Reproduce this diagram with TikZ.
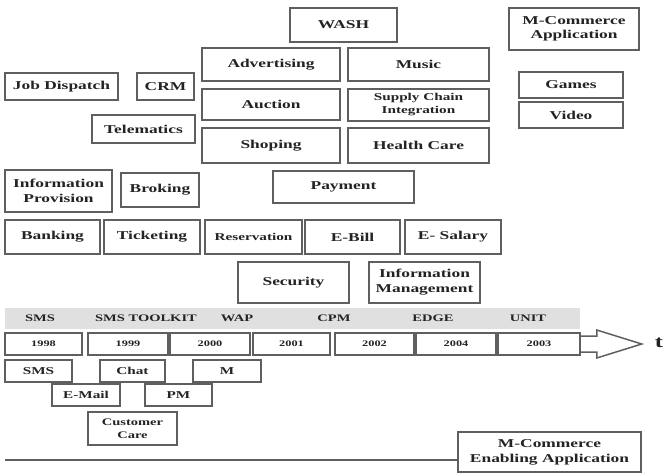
\documentclass[tikz,border=0pt]{standalone}
\usepackage{fontspec}
\setmainfont{Liberation Serif}[FakeStretch=1.45]
\usepackage{xcolor}
\usepackage{tikz}
\usetikzlibrary{positioning, calc}
\definecolor{MCBorder}{RGB}{95, 95, 95}
\definecolor{MCText}{RGB}{35, 35, 35}
\definecolor{MCBand}{RGB}{224, 224, 224}

\begin{document}
\begin{tikzpicture}[x=1pt, y=-1pt,
    appbox/.style={draw=MCBorder, line width=1.5pt, fill=white, inner sep=0pt, align=center,
                   text=MCText, font=\fontsize{12}{14}\selectfont\bfseries},
    smallbox/.style={appbox, font=\fontsize{10.5}{12}\selectfont\bfseries},
    yearbox/.style={appbox, minimum height=22pt, font=\fontsize{8.5}{10}\selectfont\bfseries},
    bandlabel/.style={text=MCText, font=\fontsize{10}{12}\selectfont\bfseries}]
    \useasboundingbox (0,0) rectangle (666,474);
    \fill[white] (0,0) rectangle (666,474);

    \node[appbox, minimum width=107pt, minimum height=34pt] (wash) at (343.5,25) {WASH};
    \node[appbox, minimum width=130pt, minimum height=42pt] (mcapp) at (574,29) {M-Commerce\\Application};
    \node[appbox, minimum width=138pt, minimum height=33pt] (advert) at (271,64.5) {Advertising};
    \node[appbox, minimum width=141pt, minimum height=33pt] (music) at (418.5,64.5) {Music};
    \node[appbox, minimum width=113pt, minimum height=27pt] (jobdisp) at (61.5,86.5) {Job Dispatch};
    \node[appbox, minimum width=57pt, minimum height=27pt] (crm) at (165.5,86.5) {CRM};
    \node[appbox, minimum width=138pt, minimum height=31pt] (auction) at (271,104.5) {Auction};
    \node[appbox, minimum width=141pt, minimum height=32pt,
          font=\fontsize{10.5}{13}\selectfont\bfseries] (supply) at (418.5,105) {Supply Chain\\Integration};
    \node[appbox, minimum width=103pt, minimum height=28pt] (telem) at (143.5,129) {Telematics};
    \node[appbox, minimum width=138pt, minimum height=35pt] (shop) at (271,145.5) {Shoping};
    \node[appbox, minimum width=141pt, minimum height=35pt] (health) at (418.5,145.5) {Health Care};
    \node[appbox, minimum width=104pt, minimum height=26pt] (games) at (571,85) {Games};
    \node[appbox, minimum width=104pt, minimum height=26pt] (video) at (571,115) {Video};

    \node[appbox, minimum width=107pt, minimum height=42pt,
          font=\fontsize{12}{15}\selectfont\bfseries] (infoprov) at (58.5,191) {Information\\Provision};
    \node[appbox, minimum width=78pt, minimum height=34pt] (broking) at (160,190) {Broking};
    \node[appbox, minimum width=141pt, minimum height=32pt] (payment) at (343.5,187) {Payment};

    \node[appbox, minimum width=95pt, minimum height=34pt] (banking) at (52.5,237) {Banking};
    \node[appbox, minimum width=96pt, minimum height=34pt] (ticket) at (152,237) {Ticketing};
    \node[appbox, minimum width=97pt, minimum height=34pt,
          font=\fontsize{10.5}{12}\selectfont\bfseries] (reserv) at (253.5,237) {Reservation};
    \node[appbox, minimum width=95pt, minimum height=34pt] (ebill) at (352.5,237) {E-Bill};
    \node[appbox, minimum width=96pt, minimum height=34pt] (esalary) at (453,237) {E- Salary};

    \node[appbox, minimum width=111pt, minimum height=41pt] (security) at (293.5,282.5) {Security};
    \node[appbox, minimum width=111pt, minimum height=41pt,
          font=\fontsize{12}{15}\selectfont\bfseries] (infomgmt) at (424.5,282.5) {Information\\Management};

    \fill[MCBand] (5,308) rectangle (580,329);
    \node[bandlabel] (tsms) at (40,318.5) {SMS};
    \node[bandlabel] (ttoolkit) at (146,318.5) {SMS TOOLKIT};
    \node[bandlabel] (twap) at (237,318.5) {WAP};
    \node[bandlabel] (tcpm) at (334,318.5) {CPM};
    \node[bandlabel] (tedge) at (433,318.5) {EDGE};
    \node[bandlabel] (tunit) at (528,318.5) {UNIT};

    \node[yearbox, minimum width=77pt] (y1998) at (43.5,344) {1998};
    \node[yearbox, minimum width=80pt] (y1999) at (128,344) {1999};
    \node[yearbox, minimum width=80pt] (y2000) at (210,344) {2000};
    \node[yearbox, minimum width=77pt] (y2001) at (291.5,344) {2001};
    \node[yearbox, minimum width=79pt] (y2002) at (374.5,344) {2002};
    \node[yearbox, minimum width=80pt] (y2004) at (456,344) {2004};
    \node[yearbox, minimum width=82pt] (y2003) at (539,344) {2003};

    \draw[MCBorder, line width=1.5pt, line join=miter]
      ($(y2003.east)+(0,-8)$) -- ++(16,0) -- ++(0,-6) -- ++(45,14) -- ++(-45,14) -- ++(0,-6) -- ++(-16,0);
    \node[text=MCText, font=\fontsize{17}{17}\selectfont\bfseries] (tlabel) at (659,343) {t};

    \node[smallbox, minimum width=67pt, minimum height=22pt] (sms) at (38.5,371) {SMS};
    \node[smallbox, minimum width=65pt, minimum height=22pt] (chat) at (132.5,371) {Chat};
    \node[smallbox, minimum width=68pt, minimum height=22pt] (mbox) at (227,371) {M};
    \node[smallbox, minimum width=68pt, minimum height=22pt] (email) at (86,395) {E-Mail};
    \node[smallbox, minimum width=67pt, minimum height=22pt] (pm) at (178.5,395) {PM};
    \node[smallbox, minimum width=89pt, minimum height=33pt,
          font=\fontsize{10}{13}\selectfont\bfseries] (custcare) at (132.5,428.5) {Customer\\Care};

    \node[appbox, minimum width=183pt, minimum height=40pt,
          font=\fontsize{12}{15}\selectfont\bfseries] (enab) at (549.5,452) {M-Commerce\\Enabling Application};
    \coordinate (linestart) at (5,460);
    \draw[MCBorder, line width=1.5pt] (linestart) -- (linestart -| enab.west);
  \end{tikzpicture}
\end{document}
